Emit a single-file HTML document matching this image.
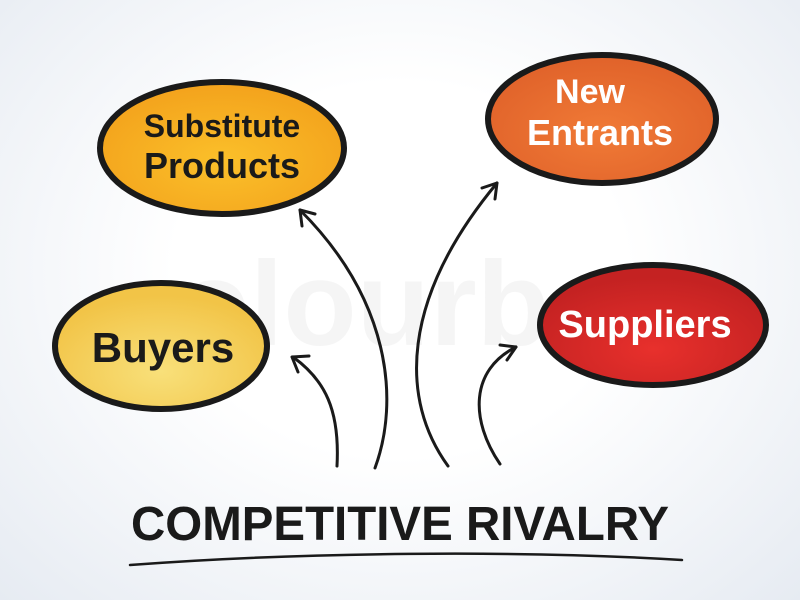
<!DOCTYPE html>
<html><head><style>
body{margin:0;width:800px;height:600px;overflow:hidden;background:radial-gradient(ellipse at 50% 45%,#ffffff 40%,#e6ebf2 100%);}
svg{display:block}
text{font-family:"Liberation Sans",sans-serif;font-weight:bold}
</style></head><body>
<svg width="800" height="600" viewBox="0 0 800 600">
<defs>
<radialGradient id="g1" cx="50%" cy="60%" r="60%"><stop offset="0" stop-color="#fbc02a"/><stop offset="1" stop-color="#f3a21c"/></radialGradient>
<radialGradient id="g2" cx="50%" cy="60%" r="60%"><stop offset="0" stop-color="#f07a36"/><stop offset="1" stop-color="#e0622a"/></radialGradient>
<radialGradient id="g3" cx="50%" cy="70%" r="60%"><stop offset="0" stop-color="#f8e07a"/><stop offset="1" stop-color="#f2c447"/></radialGradient>
<radialGradient id="g4" cx="50%" cy="70%" r="60%"><stop offset="0" stop-color="#e8302c"/><stop offset="1" stop-color="#c42222"/></radialGradient>
</defs>
<text x="400" y="345" font-size="120" fill="#000" opacity="0.035" text-anchor="middle">colourbox</text>
<ellipse cx="222" cy="148" rx="122" ry="66" fill="url(#g1)" stroke="#1a1a1a" stroke-width="6"/>
<ellipse cx="602" cy="119" rx="114" ry="64" fill="url(#g2)" stroke="#1a1a1a" stroke-width="6"/>
<ellipse cx="161" cy="346" rx="106" ry="63" fill="url(#g3)" stroke="#1a1a1a" stroke-width="6"/>
<ellipse cx="653" cy="325" rx="113" ry="60" fill="url(#g4)" stroke="#1a1a1a" stroke-width="6"/>
<g fill="#1a1a1a" text-anchor="middle">
<text x="222" y="137" font-size="32">Substitute</text>
<text x="222" y="178" font-size="36">Products</text>
<text x="163" y="362" font-size="42">Buyers</text>
</g>
<g fill="#fff" text-anchor="middle">
<text x="590" y="103" font-size="34">New</text>
<text x="600" y="145" font-size="36">Entrants</text>
<text x="645" y="337" font-size="38">Suppliers</text>
</g>
<g fill="none" stroke="#1a1a1a" stroke-width="3" stroke-linecap="round">
<path d="M337 466 C340 410 325 380 293 357"/>
<path d="M292 357 L309 356 M292 357 L298 372"/>
<path d="M375 468 C400 400 390 300 300 210"/>
<path d="M300 210 L315 214 M300 210 L302 226"/>
<path d="M448 466 C400 400 400 300 497 183"/>
<path d="M497 183 L482 188 M497 183 L495 199"/>
<path d="M500 464 C470 420 470 370 516 347"/>
<path d="M516 347 L500 345 M516 347 L507 360"/>
<path d="M130 565 C300 552 520 550 682 560" stroke-width="2.5"/>
</g>
<text x="400" y="540" font-size="48" fill="#1a1a1a" text-anchor="middle" textLength="538" lengthAdjust="spacingAndGlyphs">COMPETITIVE RIVALRY</text>
</svg>
</body></html>
